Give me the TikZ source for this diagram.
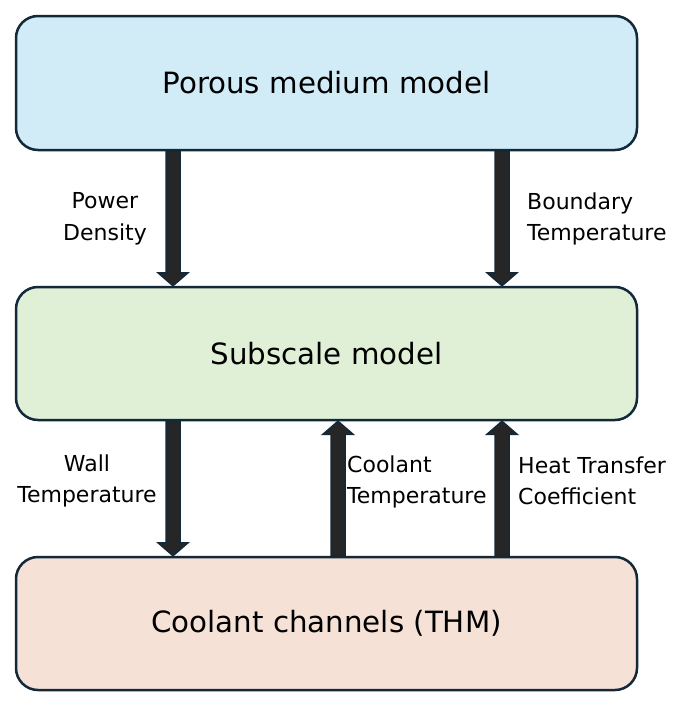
\documentclass[tikz,border=0pt]{standalone}
\usepackage{fontspec}
\setmainfont{DejaVu Sans}
\usetikzlibrary{calc}
\definecolor{outl}{HTML}{13293A}
\definecolor{bluef}{HTML}{D1EBF7}
\definecolor{greenf}{HTML}{DFF0D7}
\definecolor{pinkf}{HTML}{F6E1D7}
\definecolor{arrf}{HTML}{262626}
\tikzset{
  box/.style={draw=outl, line width=2.5pt, rounded corners=22pt, minimum width=621pt, minimum height=133pt, inner sep=0pt, font=\fontsize{29.3}{34}\selectfont},
  lbl/.style={inner sep=0pt, font=\fontsize{22}{31.5}\selectfont},
  fatarr/.style={fill=arrf, draw=outl, line width=1.5pt, line join=miter}
}
\newcommand\fatarrow[2]{%
  \draw[fatarr] let \p1=(#1), \p2=(#2), \p3=($(#2)!13pt!(#1)$) in
    ({\x1-7pt},\y1) -- ({\x1-7pt},\y3) -- ({\x1-15pt},\y3) -- (\x2,\y2) --
    ({\x1+15pt},\y3) -- ({\x1+7pt},\y3) -- ({\x1+7pt},\y1) -- cycle;}
\begin{document}
\begin{tikzpicture}[x=1pt,y=-1pt]
\useasboundingbox (0,0) rectangle (678,704);
\node[box, fill=bluef, minimum height=134pt] (pm) at (326.5,83) {Porous medium model};
\node[box, fill=greenf] (ss) at (326.5,353.5) {Subscale model};
\node[box, fill=pinkf] (cc) at (326.5,623.5) {Coolant channels (THM)};
\coordinate (xa) at (173,0);
\coordinate (xb) at (502,0);
\coordinate (xc) at (338,0);
\coordinate (a1) at (pm.south -| xa);
\coordinate (a2) at (ss.north -| xa);
\coordinate (b1) at (pm.south -| xb);
\coordinate (b2) at (ss.north -| xb);
\coordinate (c1) at (ss.south -| xa);
\coordinate (c2) at (cc.north -| xa);
\coordinate (d1) at (cc.north -| xc);
\coordinate (d2) at (ss.south -| xc);
\coordinate (e1) at (cc.north -| xb);
\coordinate (e2) at (ss.south -| xb);
\fatarrow{a1}{a2}
\fatarrow{b1}{b2}
\fatarrow{c1}{c2}
\fatarrow{d1}{d2}
\fatarrow{e1}{e2}
\node[lbl, align=center] (l1) at (105,219) {Power\\Density};
\node[lbl, align=left, anchor=west] (l2) at (527,219) {Boundary\\Temperature};
\node[lbl, align=center] (l3) at (87,481) {Wall\\Temperature};
\node[lbl, align=left, anchor=west] (l4) at (347,482) {Coolant\\Temperature};
\node[lbl, align=left, anchor=west] (l5) at (518,481) {Heat Transfer\\Coefficient};
\end{tikzpicture}
\end{document}
